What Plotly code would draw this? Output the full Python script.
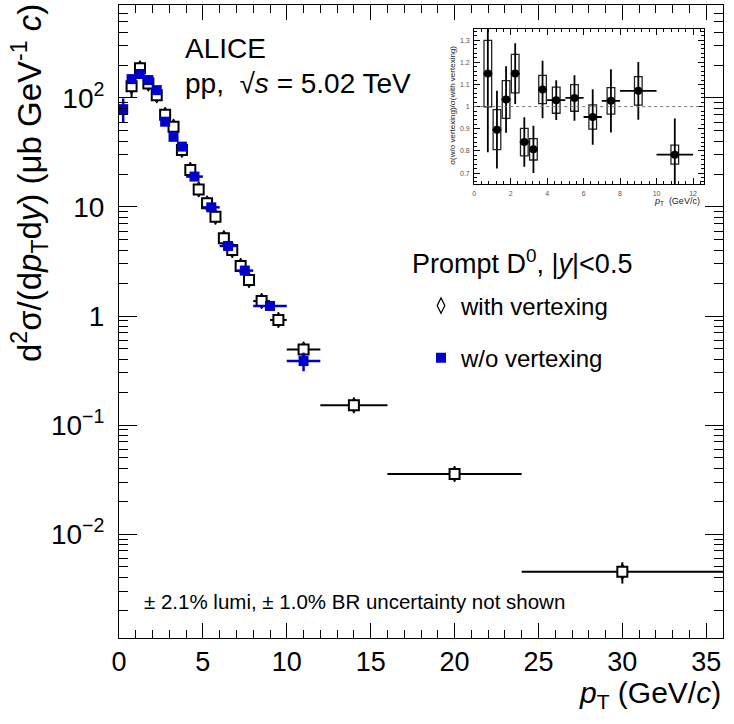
import plotly.graph_objects as go

FONT = "Liberation Sans, Arial, Helvetica, sans-serif"
BLUE = "#0000cc"

# ---- prompt D0 cross section, with vertexing ----
pt_vtx = [0.75, 1.25, 1.75, 2.25, 2.75, 3.25, 3.75, 4.25, 4.75, 5.25, 5.75,
          6.25, 6.75, 7.25, 7.75, 8.5, 9.5, 11, 14, 20, 30]
pt_vtx_hw = [0.25, 0.25, 0.25, 0.25, 0.25, 0.25, 0.25, 0.25, 0.25, 0.25, 0.25,
             0.25, 0.25, 0.25, 0.25, 0.5, 0.5, 1, 2, 4, 6]
xs_vtx = [128, 187, 136, 106, 70, 54.6, 33.4, 21.8, 14.5, 10.8, 8.15,
          5.16, 4.03, 2.88, 2.14, 1.37, 0.92, 0.494, 0.152, 0.0355, 0.00451]
xs_vtx_err = [28, 8, 6, 4, 3, 2.5, 1.5, 1.0, 0.6, 0.4, 0.3,
              0.2, 0.15, 0.1, 0.08, 0.05, 0.04, 0.02, 0.008, 0.0025, 0.001]

# ---- prompt D0 cross section, without vertexing ----
pt_nov = [0.25, 0.75, 1.25, 1.75, 2.25, 2.75, 3.25, 3.75, 4.5, 5.5, 6.5, 7.5, 9, 11]
pt_nov_hw = [0.25, 0.25, 0.25, 0.25, 0.25, 0.25, 0.25, 0.25, 0.5, 0.5, 0.5, 0.5, 1, 1]
xs_nov = [79, 149, 166, 146, 118, 60.6, 44, 35.8, 19.0, 9.93, 4.39, 2.61, 1.236, 0.386]
xs_nov_err = [20, 12, 10, 8, 6, 4, 3, 2, 1.0, 0.6, 0.3, 0.2, 0.1, 0.075]

# ---- ratio (inset) ----
ratio_pt = [0.75, 1.25, 1.75, 2.25, 2.75, 3.25, 3.75, 4.5, 5.5, 6.5, 7.5, 9, 11]
ratio_hw = [0.25, 0.25, 0.25, 0.25, 0.25, 0.25, 0.25, 0.5, 0.5, 0.5, 0.5, 1, 1]
ratio = [1.149, 0.896, 1.032, 1.149, 0.840, 0.807, 1.077, 1.029, 1.039, 0.953, 1.026, 1.071, 0.783]
ratio_stat = [0.355, 0.175, 0.15, 0.137, 0.112, 0.107, 0.13, 0.09, 0.103, 0.125, 0.143, 0.13, 0.163]
ratio_syst = [0.15, 0.09, 0.085, 0.087, 0.062, 0.048, 0.064, 0.059, 0.06, 0.055, 0.06, 0.064, 0.043]

y_tickvals = [1e-2, 1e-1, 1, 10, 100]
y_ticktext = ["10<sup>\u22122</sup>", "10<sup>\u22121</sup>", "1", "10", "10<sup>2</sup>"]

minor_y = [m * 10.0 ** e for e in range(-3, 3) for m in range(2, 10)]

fig = go.Figure()

# diamond markers (with vertexing) under the boxes
fig.add_trace(go.Scatter(
    x=pt_vtx, y=xs_vtx, mode="markers", name="with vertexing",
    legendgroup="g1",
    marker=dict(symbol="diamond-tall", size=11, color="white",
                line=dict(color="black", width=1.2)),
))
# systematic boxes + stat errors (with vertexing)
fig.add_trace(go.Scatter(
    x=pt_vtx, y=xs_vtx, mode="markers", showlegend=False,
    marker=dict(symbol="square", size=10, color="white",
                line=dict(color="black", width=2)),
    error_y=dict(type="data", array=xs_vtx_err, color="black", thickness=2, width=0),
    error_x=dict(type="data", array=pt_vtx_hw, color="black", thickness=2, width=0),
))
# without vertexing
fig.add_trace(go.Scatter(
    x=pt_nov, y=xs_nov, mode="markers", name="w/o vertexing",
    legendgroup="g2",
    marker=dict(symbol="square", size=10, color=BLUE, line=dict(width=0)),
    error_y=dict(type="data", array=xs_nov_err, color=BLUE, thickness=2.5, width=0),
    error_x=dict(type="data", array=pt_nov_hw, color=BLUE, thickness=2.5, width=0),
))

# inset: systematic boxes
fig.add_trace(go.Bar(
    x=ratio_pt, y=[2 * s for s in ratio_syst],
    base=[r - s for r, s in zip(ratio, ratio_syst)],
    width=0.42, xaxis="x2", yaxis="y2", showlegend=False,
    marker=dict(color="rgba(0,0,0,0)", line=dict(color="#222", width=1.3)),
))
# inset: points
fig.add_trace(go.Scatter(
    x=ratio_pt, y=ratio, mode="markers", xaxis="x2", yaxis="y2", showlegend=False,
    marker=dict(symbol="circle", size=8, color="black"),
    error_y=dict(type="data", array=ratio_stat, color="black", thickness=1.8, width=0),
    error_x=dict(type="data", array=ratio_hw, color="black", thickness=1.8, width=0),
))

fig.update_layout(
    width=734, height=724,
    margin=dict(l=119, r=11, t=5, b=86),
    paper_bgcolor="white", plot_bgcolor="white",
    font=dict(family=FONT, color="black"),
    showlegend=True,
    legend=dict(x=0.500, y=0.560, xanchor="left", yanchor="top",
                font=dict(size=24, family=FONT), bgcolor="rgba(0,0,0,0)",
                tracegroupgap=18, itemsizing="trace"),
    xaxis=dict(range=[0, 36], showgrid=False, zeroline=False,
               showline=True, linecolor="black", linewidth=1, mirror="ticks",
               ticks="inside", ticklen=15, tickcolor="black", dtick=5, tick0=0,
               tickfont=dict(size=27, family=FONT), ticklabelstandoff=0,
               minor=dict(ticks="inside", ticklen=8, dtick=1, tickcolor="black",
                          showgrid=False)),
    yaxis=dict(type="log", range=[-2.954, 2.853], showgrid=False, zeroline=False,
               showline=True, linecolor="black", linewidth=1, mirror="ticks",
               ticks="inside", ticklen=18, tickcolor="black",
               tickvals=y_tickvals, ticktext=y_ticktext,
               tickfont=dict(size=28, family=FONT), ticklabelstandoff=8,
               minor=dict(ticks="inside", ticklen=9, tickvals=minor_y,
                          tickcolor="black", showgrid=False)),
    xaxis2=dict(domain=[0.588, 0.9685], anchor="y2", range=[0, 12.6],
                showgrid=False, zeroline=False, showline=True, linecolor="black",
                linewidth=1, mirror="ticks", ticks="inside", ticklen=6,
                tickcolor="black", dtick=2, tick0=0,
                tickfont=dict(size=7, family=FONT, color="#555"),
                ticklabelstandoff=2,
                minor=dict(ticks="inside", ticklen=3, dtick=0.4, tickcolor="black")),
    yaxis2=dict(domain=[0.717, 0.962], anchor="x2", range=[0.65, 1.35],
                showgrid=False, zeroline=False, showline=True, linecolor="black",
                linewidth=1, mirror="ticks", ticks="inside", ticklen=6,
                tickcolor="black", dtick=0.1, tick0=0,
                tickfont=dict(size=7, family=FONT, color="#555"),
                ticklabelstandoff=2,
                minor=dict(ticks="inside", ticklen=3, dtick=0.02, tickcolor="black")),
    shapes=[dict(type="line", xref="x2 domain", yref="y2", x0=0, x1=1, y0=1, y1=1,
                 line=dict(color="#777", width=1, dash="dot"))],
)

ann = [
    dict(text="ALICE", x=0.106, y=0.932, xanchor="left", yanchor="middle",
         font=dict(size=28)),
    dict(text="pp,  \u221a<i>s</i> = 5.02 TeV", x=0.106, y=0.876,
         xanchor="left", yanchor="middle", font=dict(size=28)),
    dict(text="Prompt D<sup>0</sup>, |<i>y</i>|<0.5", x=0.482, y=0.594,
         xanchor="left", yanchor="middle", font=dict(size=27)),
    dict(text="\u00b1 2.1% lumi, \u00b1 1.0% BR uncertainty not shown",
         x=0.038, y=0.058, xanchor="left", yanchor="middle", font=dict(size=20.5)),
    dict(text="d<sup>2</sup>\u03c3/(d<i>p</i><sub>T</sub>d<i>y</i>) (\u03bcb GeV<sup>-1</sup> <i>c</i>)",
         x=-0.147, y=1.005, xanchor="center", yanchor="top", textangle=-90,
         font=dict(size=33)),
    dict(text="<i>p</i><sub>T</sub> (GeV/<i>c</i>)", x=1.0, y=-0.09,
         xanchor="right", yanchor="middle", font=dict(size=30)),
    dict(text="\u03c3(w/o vertexing)/\u03c3(with vertexing)", x=0.551, y=0.842,
         xanchor="center", yanchor="middle", textangle=-90,
         font=dict(size=8, color="#222")),
    dict(text="<i>p</i><sub>T</sub>  (GeV/c)", x=0.965, y=0.689,
         xanchor="right", yanchor="middle", font=dict(size=9, color="#222")),
]
for a in ann:
    a.update(xref="paper", yref="paper", showarrow=False)
fig.update_layout(annotations=ann)

fig.write_html("out.html", config={"displayModeBar": False},
               post_script="document.body.style.margin='0px';")
